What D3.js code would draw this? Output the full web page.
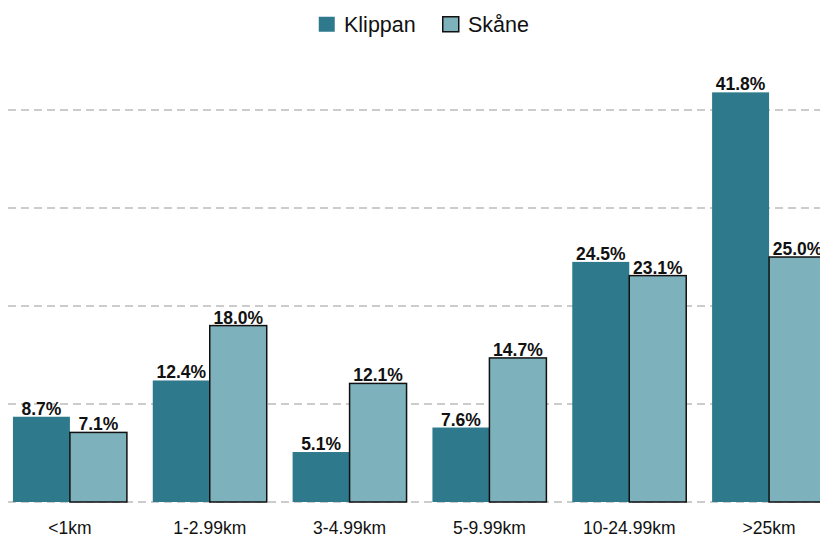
<!DOCTYPE html>
<html><head><meta charset="utf-8">
<script src="https://cdn.jsdelivr.net/npm/d3@7"></script>
<style>body{margin:0;background:#fff}svg{display:block}</style>
</head><body>
<svg id="c" width="820" height="537"></svg>
<script>
const categories = ["<1km","1-2.99km","3-4.99km","5-9.99km","10-24.99km",">25km"];
const seriesNames = ["Klippan","Skåne"];
const klippan = [8.7,12.4,5.1,7.6,24.5,41.8];
const skane = [7.1,18.0,12.1,14.7,23.1,25.0];
const gridTicks = [0,10,20,30,40];
const colors = ["#2e7a8c","#7db1bb"];

const svg = d3.select("#c");
const font = "Liberation Sans, Arial, sans-serif";
const x = d3.scaleBand().domain(categories).range([0,839]).paddingInner(0.185).paddingOuter(0.0925);
const xs = d3.scaleBand().domain(seriesNames).range([0,x.bandwidth()]);
const y = d3.scaleLinear().domain([0,10]).range([502,404]);

svg.append("g").selectAll("line").data(gridTicks).join("line")
  .attr("x1",8).attr("x2",820).attr("y1",d=>y(d)).attr("y2",d=>y(d))
  .attr("stroke","#bcbcbc").attr("stroke-width",1.3).attr("stroke-dasharray","8,5");

const data = categories.map((c,i)=>({c, vals:[klippan[i],skane[i]]}));
const g = svg.append("g").selectAll("g").data(data).join("g")
  .attr("transform",d=>`translate(${x(d.c)},0)`);
g.selectAll("rect").data(d=>d.vals.map((v,j)=>({v,s:seriesNames[j],j}))).join("rect")
  .attr("x",d=>xs(d.s)).attr("width",xs.bandwidth())
  .attr("y",d=>y(d.v)).attr("height",d=>y(0)-y(d.v))
  .attr("fill",d=>colors[d.j])
  .attr("stroke",d=>d.j===1?"#111":"none").attr("stroke-width",1.5);
g.selectAll("text").data(d=>d.vals.map((v,j)=>({v,s:seriesNames[j],j}))).join("text")
  .attr("x",d=>xs(d.s)+xs.bandwidth()/2).attr("y",d=>y(d.v)-2)
  .attr("text-anchor","middle").attr("font-family",font).attr("font-weight","bold")
  .attr("font-size",17.5).attr("fill","#111").text(d=>d.v.toFixed(1)+"%");

const xAxis = svg.append("g").attr("transform","translate(0,502)")
  .call(d3.axisBottom(x).tickSize(0).tickPadding(20));
xAxis.select(".domain").remove();
xAxis.selectAll("text").attr("font-family",font).attr("font-size",17.5).attr("fill","#111");

// legend
const leg = svg.append("g");
const items = [{n:"Klippan",x:318},{n:"Skåne",x:442}];
items.forEach((it,i)=>{
  leg.append("rect").attr("x",it.x+0.75).attr("y",16.75).attr("width",16).attr("height",15)
    .attr("fill",colors[i]).attr("stroke",i===1?"#111":"none").attr("stroke-width",1.5);
  leg.append("text").attr("x",it.x+26).attr("y",32).attr("font-family",font)
    .attr("font-size",21.5).attr("fill","#111").text(it.n);
});
</script>
</body></html>
